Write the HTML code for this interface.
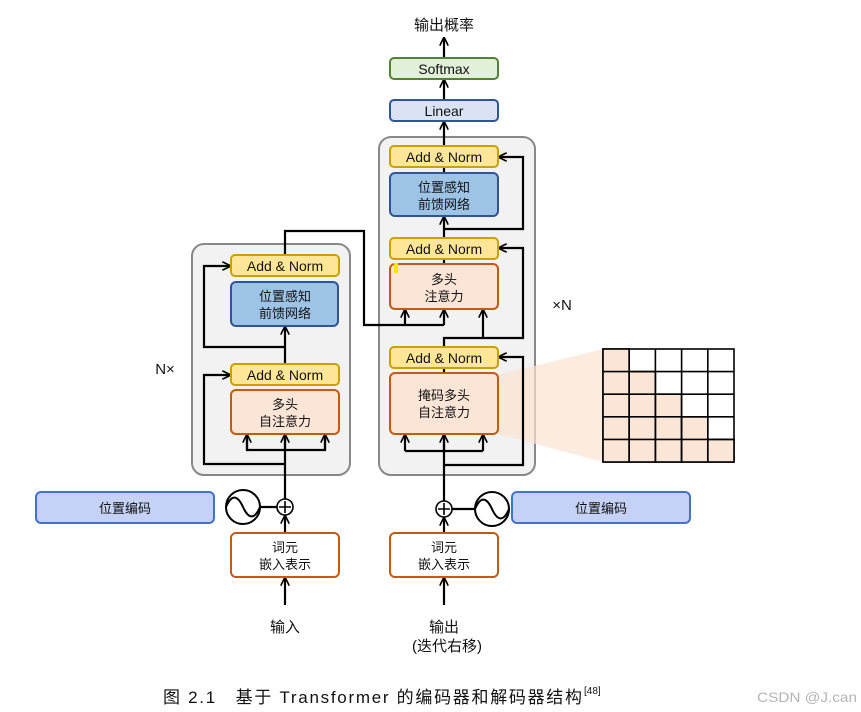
<!DOCTYPE html>
<html><head><meta charset="utf-8"><style>
html,body{margin:0;padding:0;background:#fff;}
svg{display:block;}
text{font-family:"Liberation Sans","Noto Sans CJK SC",sans-serif;fill:#111;}
</style></head><body>
<svg width="861" height="712" viewBox="0 0 861 712" xmlns="http://www.w3.org/2000/svg">
<defs>
<marker id="a" viewBox="0 0 10 10" refX="9" refY="5" markerWidth="9" markerHeight="9" markerUnits="userSpaceOnUse" orient="auto">
<path d="M0,0 L10,5 L0,10" fill="none" stroke="#000" stroke-width="1.8"/>
</marker>
</defs>
<!-- container boxes -->
<rect x="192" y="244" width="158" height="231" rx="12" fill="#f2f2f2" stroke="#888" stroke-width="2"/>
<rect x="379" y="137" width="156" height="338" rx="12" fill="#f2f2f2" stroke="#888" stroke-width="2"/>
<!-- mask projection -->
<polygon points="498,375 603,349 603,462 498,434" fill="#fbe3d2" opacity="0.7"/>

<g fill="none" stroke="#000" stroke-width="2.2">
<!-- encoder -->
<line x1="285" y1="605" x2="285" y2="578" marker-end="url(#a)"/>
<line x1="285" y1="533" x2="285" y2="516" marker-end="url(#a)"/>
<line x1="260" y1="507" x2="277" y2="507"/>
<line x1="285" y1="499" x2="285" y2="390"/>
<polyline points="247,435 247,450 325,450 325,435"/>
<line x1="247" y1="450" x2="247" y2="435" marker-end="url(#a)"/>
<line x1="325" y1="450" x2="325" y2="435" marker-end="url(#a)"/>
<line x1="285" y1="450" x2="285" y2="435" marker-end="url(#a)"/>
<polyline points="285,464 204,464 204,375 230,375" marker-end="url(#a)"/>
<line x1="285" y1="385" x2="285" y2="327" marker-end="url(#a)"/>
<polyline points="285,347 204,347 204,266 230,266" marker-end="url(#a)"/>
<polyline points="285,255 285,231 364,231 364,325 444,325"/>
<line x1="405" y1="325" x2="405" y2="310" marker-end="url(#a)"/>
<line x1="444" y1="325" x2="444" y2="310" marker-end="url(#a)"/>
<!-- decoder -->
<line x1="444" y1="605" x2="444" y2="578" marker-end="url(#a)"/>
<line x1="444" y1="533" x2="444" y2="518" marker-end="url(#a)"/>
<line x1="452" y1="509" x2="475" y2="509"/>
<line x1="444" y1="501" x2="444" y2="435"/>
<polyline points="405,451 483,451"/>
<line x1="405" y1="451" x2="405" y2="435" marker-end="url(#a)"/>
<line x1="483" y1="451" x2="483" y2="435" marker-end="url(#a)"/>
<line x1="444" y1="451" x2="444" y2="435" marker-end="url(#a)"/>
<polyline points="444,465 523,465 523,357 499,357" marker-end="url(#a)"/>
<line x1="444" y1="373" x2="444" y2="368"/>
<polyline points="444,347 444,338 523,338 523,248 499,248" marker-end="url(#a)"/>
<line x1="483" y1="338" x2="483" y2="310" marker-end="url(#a)"/>
<line x1="444" y1="264" x2="444" y2="259"/>
<line x1="444" y1="238" x2="444" y2="217" marker-end="url(#a)"/>
<polyline points="444,229 523,229 523,157 499,157" marker-end="url(#a)"/>
<line x1="444" y1="173" x2="444" y2="167"/>
<line x1="444" y1="146" x2="444" y2="122" marker-end="url(#a)"/>
<line x1="444" y1="100" x2="444" y2="80" marker-end="url(#a)"/>
<line x1="444" y1="58" x2="444" y2="38" marker-end="url(#a)"/>
</g>

<!-- encoder blocks -->
<rect x="231" y="255" width="108" height="21" rx="4" fill="#ffe699" stroke="#c9a100" stroke-width="2"/>
<text x="285" y="271" font-size="14" text-anchor="middle">Add &amp; Norm</text>
<rect x="231" y="282" width="107" height="44" rx="5" fill="#9dc3e6" stroke="#2f5597" stroke-width="2"/>
<text x="285" y="301" font-size="13" text-anchor="middle">位置感知</text>
<text x="285" y="318" font-size="13" text-anchor="middle">前馈网络</text>
<rect x="231" y="364" width="108" height="21" rx="4" fill="#ffe699" stroke="#c9a100" stroke-width="2"/>
<text x="285" y="380" font-size="14" text-anchor="middle">Add &amp; Norm</text>
<rect x="231" y="390" width="108" height="44" rx="5" fill="#fbe5d6" stroke="#c55a11" stroke-width="2"/>
<text x="285" y="409" font-size="13" text-anchor="middle">多头</text>
<text x="285" y="426" font-size="13" text-anchor="middle">自注意力</text>

<!-- decoder blocks -->
<rect x="390" y="146" width="108" height="21" rx="4" fill="#ffe699" stroke="#c9a100" stroke-width="2"/>
<text x="444" y="162" font-size="14" text-anchor="middle">Add &amp; Norm</text>
<rect x="390" y="173" width="108" height="43" rx="5" fill="#9dc3e6" stroke="#2f5597" stroke-width="2"/>
<text x="444" y="192" font-size="13" text-anchor="middle">位置感知</text>
<text x="444" y="209" font-size="13" text-anchor="middle">前馈网络</text>
<rect x="390" y="238" width="108" height="21" rx="4" fill="#ffe699" stroke="#c9a100" stroke-width="2"/>
<text x="444" y="254" font-size="14" text-anchor="middle">Add &amp; Norm</text>
<rect x="390" y="264" width="108" height="45" rx="5" fill="#fbe5d6" stroke="#c55a11" stroke-width="2"/>
<rect x="394" y="263" width="4" height="10" fill="#ffe600"/>
<text x="444" y="284" font-size="13" text-anchor="middle">多头</text>
<text x="444" y="301" font-size="13" text-anchor="middle">注意力</text>
<rect x="390" y="347" width="108" height="21" rx="4" fill="#ffe699" stroke="#c9a100" stroke-width="2"/>
<text x="444" y="363" font-size="14" text-anchor="middle">Add &amp; Norm</text>
<rect x="390" y="373" width="108" height="61" rx="5" fill="#fbe5d6" stroke="#c55a11" stroke-width="2"/>
<text x="444" y="400" font-size="13" text-anchor="middle">掩码多头</text>
<text x="444" y="417" font-size="13" text-anchor="middle">自注意力</text>
<rect x="390" y="100" width="108" height="21" rx="4" fill="#dae3f3" stroke="#2f5597" stroke-width="2"/>
<text x="444" y="116" font-size="14" text-anchor="middle">Linear</text>
<rect x="390" y="58" width="108" height="21" rx="4" fill="#e2f0d9" stroke="#548235" stroke-width="2"/>
<text x="444" y="74" font-size="14" text-anchor="middle">Softmax</text>
<text x="444" y="30" font-size="15" text-anchor="middle">输出概率</text>

<text x="165" y="374" font-size="15" text-anchor="middle">N×</text>
<text x="562" y="310" font-size="15" text-anchor="middle">×N</text>

<!-- mask matrix -->
<g stroke="#000" stroke-width="1.6">
<rect x="603" y="349" width="131" height="113" fill="#fff"/>
<rect x="603" y="349" width="26.2" height="113" fill="#fbe5d6"/>
<rect x="629.2" y="371.6" width="26.2" height="90.4" fill="#fbe5d6"/>
<rect x="655.4" y="394.2" width="26.2" height="67.8" fill="#fbe5d6"/>
<rect x="681.6" y="416.8" width="26.2" height="45.2" fill="#fbe5d6"/>
<rect x="707.8" y="439.4" width="26.2" height="22.6" fill="#fbe5d6"/>
<path d="M629.2,349V462M655.4,349V462M681.6,349V462M707.8,349V462M603,371.6H734M603,394.2H734M603,416.8H734M603,439.4H734" fill="none"/>
</g>

<!-- positional encoding -->
<rect x="36" y="492" width="178" height="31" rx="5" fill="#c5d1f5" stroke="#4472c4" stroke-width="2"/>
<text x="125" y="513" font-size="13" text-anchor="middle">位置编码</text>
<rect x="512" y="492" width="178" height="31" rx="5" fill="#c5d1f5" stroke="#4472c4" stroke-width="2"/>
<text x="601" y="513" font-size="13" text-anchor="middle">位置编码</text>
<g fill="none" stroke="#000" stroke-width="2">
<circle cx="243" cy="507" r="17" fill="#fff"/>
<path d="M226,507 C232,493 238,496 243,507 S254,521 260,507"/>
<circle cx="492" cy="509" r="17" fill="#fff"/>
<path d="M475,509 C481,495 487,498 492,509 S503,523 509,509"/>
<circle cx="285" cy="507" r="8" fill="#fff" stroke-width="1.6"/>
<path d="M279,507H291M285,501V513" stroke-width="1.6"/>
<circle cx="444" cy="509" r="8" fill="#fff" stroke-width="1.6"/>
<path d="M438,509H450M444,503V515" stroke-width="1.6"/>
</g>

<!-- embeddings -->
<rect x="231" y="533" width="108" height="44" rx="5" fill="#fff" stroke="#c55a11" stroke-width="2"/>
<text x="285" y="552" font-size="13" text-anchor="middle">词元</text>
<text x="285" y="569" font-size="13" text-anchor="middle">嵌入表示</text>
<rect x="390" y="533" width="108" height="44" rx="5" fill="#fff" stroke="#c55a11" stroke-width="2"/>
<text x="444" y="552" font-size="13" text-anchor="middle">词元</text>
<text x="444" y="569" font-size="13" text-anchor="middle">嵌入表示</text>

<text x="285" y="632" font-size="15" text-anchor="middle">输入</text>
<text x="444" y="632" font-size="15" text-anchor="middle">输出</text>
<text x="447" y="651" font-size="15" text-anchor="middle">(迭代右移)</text>

<text x="163" y="703" font-size="17" textLength="419" lengthAdjust="spacing">图 2.1　基于 Transformer 的编码器和解码器结构</text>
<text x="584" y="694" font-size="10">[48]</text>
<text x="757" y="702" font-size="14" style="fill:#b5b5b5" textLength="100" lengthAdjust="spacingAndGlyphs">CSDN @J.can</text>
</svg>
</body></html>
